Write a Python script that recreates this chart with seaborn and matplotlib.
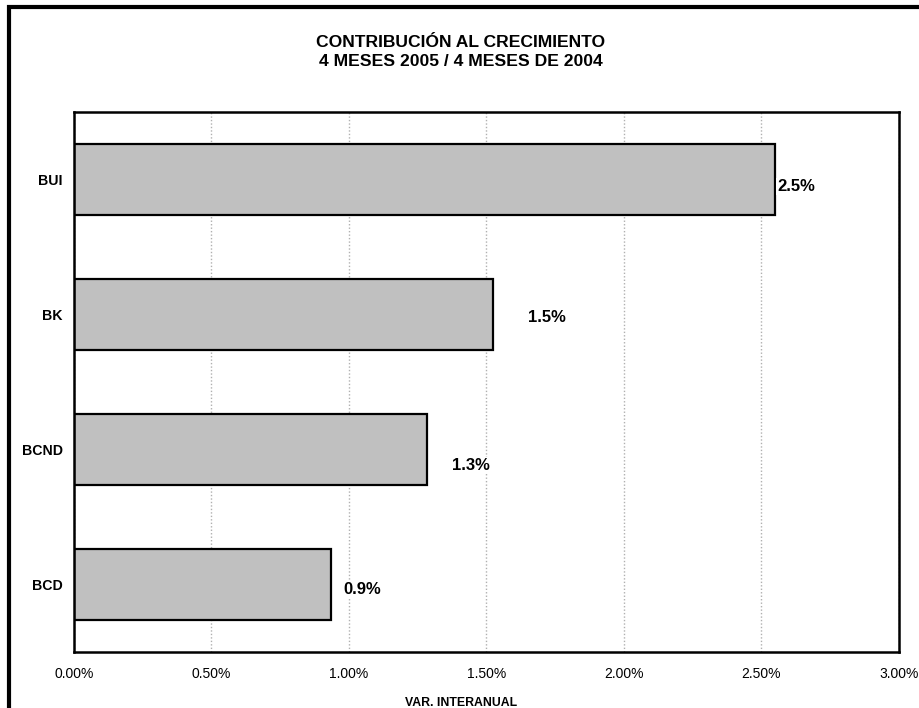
import numpy as np
import pandas as pd
import matplotlib
matplotlib.use("Agg")
import matplotlib.pyplot as plt
from matplotlib.patches import Rectangle
from matplotlib.ticker import FixedLocator
import seaborn as sns

# datos
categorias = ["BUI", "BK", "BCND", "BCD"]
contribucion = [2.549, 1.524, 1.284, 0.935]   # % var. interanual
ticks_x = [0.0, 0.5, 1.0, 1.5, 2.0, 2.5, 3.0]

titulo = "CONTRIBUCIÓN AL CRECIMIENTO\n4 MESES 2005 / 4 MESES DE 2004"
etiqueta_x = "VAR. INTERANUAL"

# desplazamiento de las etiquetas (pixeles), como en el original
desp_x = [2, 35, 25, 12]
desp_y = [7, 3, 16, 5]

sns.set_style("white")
plt.rcParams["font.family"] = ["Liberation Sans", "DejaVu Sans"]
plt.rcParams["text.color"] = "black"
plt.rcParams["axes.labelcolor"] = "black"

df = pd.DataFrame({"cat": categorias, "val": contribucion})

fig = plt.figure(figsize=(9.2, 7.08), dpi=100)
ax = fig.add_axes([74 / 920, 1 - 652 / 708, (899 - 74) / 920, (652 - 112) / 708])

sns.barplot(data=df, x="val", y="cat", orient="h", color="#c0c0c0",
            edgecolor="black", linewidth=1.6, width=0.53, saturation=1, ax=ax)

ax.set_xlim(0, 3)
ax.set_ylim(3.5, -0.5)
ax.set_xticks(ticks_x)
ax.set_xticklabels([f"{t:.2f}%" for t in ticks_x], fontsize=10)
ax.yaxis.set_minor_locator(FixedLocator(np.arange(-0.5, 4, 1)))
ax.tick_params(axis="y", which="major", length=6, width=1.8, pad=2,
               labelsize=10.2, colors="black")
ax.tick_params(axis="y", which="minor", length=6, width=1.8, colors="black")
ax.tick_params(axis="x", length=5, width=1.8, pad=6, colors="black")
for lab in ax.get_yticklabels():
    lab.set_fontweight("bold")

ax.grid(axis="x", color="#b0b0b0", linestyle=(0, (1, 1.5)), linewidth=1)
ax.set_axisbelow(True)
for s in ax.spines.values():
    s.set_color("black")
    s.set_linewidth(1.8)
    s.set_visible(True)

ax.set_ylabel("")
ax.set_xlabel(etiqueta_x, fontsize=8.8, fontweight="bold")
ax.xaxis.set_label_coords((461 - 74) / 825, -(697 - 652) / 540)

# etiquetas de valor
for i, v in enumerate(contribucion):
    ax.annotate(f"{v:.1f}%", xy=(v, i), xytext=(desp_x[i] * 0.72, -desp_y[i] * 0.72),
                textcoords="offset points", ha="left", va="center",
                fontsize=12, fontweight="bold", color="black",
                bbox=dict(facecolor="white", edgecolor="none", pad=0.5))

fig.text(461 / 920, 1 - 52 / 708, titulo, ha="center", va="center",
         fontsize=12.6, fontweight="bold", linespacing=1.4, color="black")

# marco del grafico
fig.patches.append(Rectangle((9.5 / 920, -0.05), 1.0, 1 - 6.5 / 708 + 0.05,
                             transform=fig.transFigure, fill=False,
                             edgecolor="black", linewidth=3))

fig.savefig("out.png", dpi=100)
